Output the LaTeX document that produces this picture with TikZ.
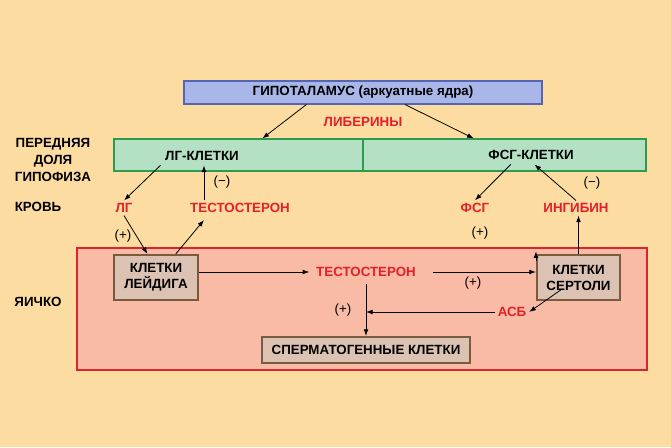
\documentclass[tikz,border=0pt]{standalone}
\usepackage{fontspec}
\setmainfont{Liberation Sans}
\usetikzlibrary{arrows.meta}
\definecolor{bgcol}{HTML}{FDDCA2}
\definecolor{hypofill}{HTML}{A9B6E8}
\definecolor{hypoline}{HTML}{5565B5}
\definecolor{pitfill}{HTML}{B4E1C4}
\definecolor{pitline}{HTML}{2E9A4E}
\definecolor{testisfill}{HTML}{F9BBA5}
\definecolor{testisline}{HTML}{D8262E}
\definecolor{cellfill}{HTML}{DCC2B2}
\definecolor{cellline}{HTML}{7B5B3F}
\definecolor{hormred}{HTML}{E3202A}

\begin{document}
\begin{tikzpicture}
    [
        x=0.75pt, y=-0.75pt, >={Latex[length=5pt, width=3.6pt]},
        font=\fontsize{10}{12}\selectfont\bfseries,
        label_text/.style={align=center, text=black, font=\fontsize{10}{12.75}\selectfont\bfseries},
        red_text/.style={text=hormred, inner sep=2pt},
        sign_text/.style={font=\fontsize{10}{12}\selectfont, inner sep=1pt},
        cell_node/.style={rectangle, draw=cellline, fill=cellfill, line width=1.6pt, align=center, inner sep=0pt, font=\fontsize{10}{12}\selectfont\bfseries},
        arrow_line/.style={->, line width=0.6pt, color=black},
    ]
        \fill[bgcol] (0,0) rectangle (671,447) ;
        \useasboundingbox (0,0) rectangle (671,447) ;
        % levels
        \node[label_text] (pered) at (53,160) {ПЕРЕДНЯЯ\\ДОЛЯ\\ГИПОФИЗА} ;
        \node[label_text] (krov) at (38,207) {КРОВЬ} ;
        \node[label_text] (yaichko) at (38,302) {ЯИЧКО} ;
        % boxes
        \node[draw=hypoline, fill=hypofill, line width=0.8pt, minimum width=268.5pt, minimum height=17.25pt, inner sep=0pt] (hypo) at (363,92.5) {ГИПОТАЛАМУС (аркуатные ядра)} ;
        \node[draw=pitline, fill=pitfill, line width=0.8pt, minimum width=399pt, minimum height=24pt, inner sep=0pt] (pit) at (380,155) {} ;
        \node[draw=testisline, fill=testisfill, line width=0.8pt, minimum width=427.5pt, minimum height=91.5pt, inner sep=0pt] (testis) at (362,309) {} ;
        \node[red_text] (lib) at (363,122) {ЛИБЕРИНЫ} ;
        \draw[pitline, line width=1.4pt] (pit.north -| lib) -- (pit.south -| lib) ;
        \node (lgc) at (202,156) {ЛГ-КЛЕТКИ} ;
        \node (fsgc) at (531,155) {ФСГ-КЛЕТКИ} ;
        % blood
        \node[red_text] (lg) at (124,208) {ЛГ} ;
        \node[red_text] (tb) at (240,208) {ТЕСТОСТЕРОН} ;
        \node[red_text] (fsg) at (475,208) {ФСГ} ;
        \node[red_text] (inh) at (576,208) {ИНГИБИН} ;
        \coordinate (tb_in) at (204,220) ;
        \coordinate (tb_out) at (204,200) ;
        % testis
        \node[cell_node, minimum width=63pt, minimum height=33.75pt] (leydig) at (156,277.5) {КЛЕТКИ\\ЛЕЙДИГА} ;
        \node[cell_node, minimum width=62.25pt, minimum height=33.75pt] (sertoli) at (578.5,277.5) {КЛЕТКИ\\СЕРТОЛИ} ;
        \node[cell_node, minimum width=156pt, minimum height=19.5pt] (sperm) at (366,350) {СПЕРМАТОГЕННЫЕ КЛЕТКИ} ;
        \node[red_text, inner sep=5pt] (tt) at (366,272) {ТЕСТОСТЕРОН} ;
        \node[red_text] (asb) at (512,312) {АСБ} ;
        \coordinate (join) at (366,312) ;
        % signs
        \node[sign_text] (minus1) at (222,182) {(−)} ;
        \node[sign_text] (minus2) at (592,183) {(−)} ;
        \node[sign_text] (plus1) at (123,236) {(+)} ;
        \node[sign_text] (plus2) at (480,233) {(+)} ;
        \node[sign_text] (plus3) at (473,283) {(+)} ;
        \node[sign_text] (plus4) at (343,310) {(+)} ;
        % arrows
        \draw[arrow_line] (hypo.192) -- (pit.172.5) ;
        \draw[arrow_line] (hypo.344) -- (pit.10.7) ;
        \draw[arrow_line] (lgc.south west) -- (lg.north) ;
        \draw[arrow_line] (tb_out) -- (tb_out |- lgc.south) ;
        \draw[arrow_line] (lg.south) -- (leydig.110) ;
        \draw[arrow_line] (leydig.50) -- (tb_in) ;
        \draw[arrow_line] (fsgc.205) -- (fsg.north) ;
        \draw[arrow_line] (inh.north) -- (fsgc.290) ;
        \draw[arrow_line] (sertoli.north) -- (sertoli.north |- inh.south) ;
        \draw[arrow_line] ([yshift=-5pt]sertoli.north west) -- ([yshift=2pt]sertoli.north west) ;
        \draw[arrow_line] (leydig.east |- tt) -- (tt) ;
        \draw[arrow_line] ([xshift=8pt]tt.east) -- (tt -| sertoli.west) ;
        \draw[arrow_line] (tt.south) -- (sperm.north) ;
        \draw[arrow_line] (asb) -- (join) ;
        \draw[arrow_line, shorten <=16pt] (sertoli.center) -- (asb.east) ;
    \end{tikzpicture}
\end{document}
